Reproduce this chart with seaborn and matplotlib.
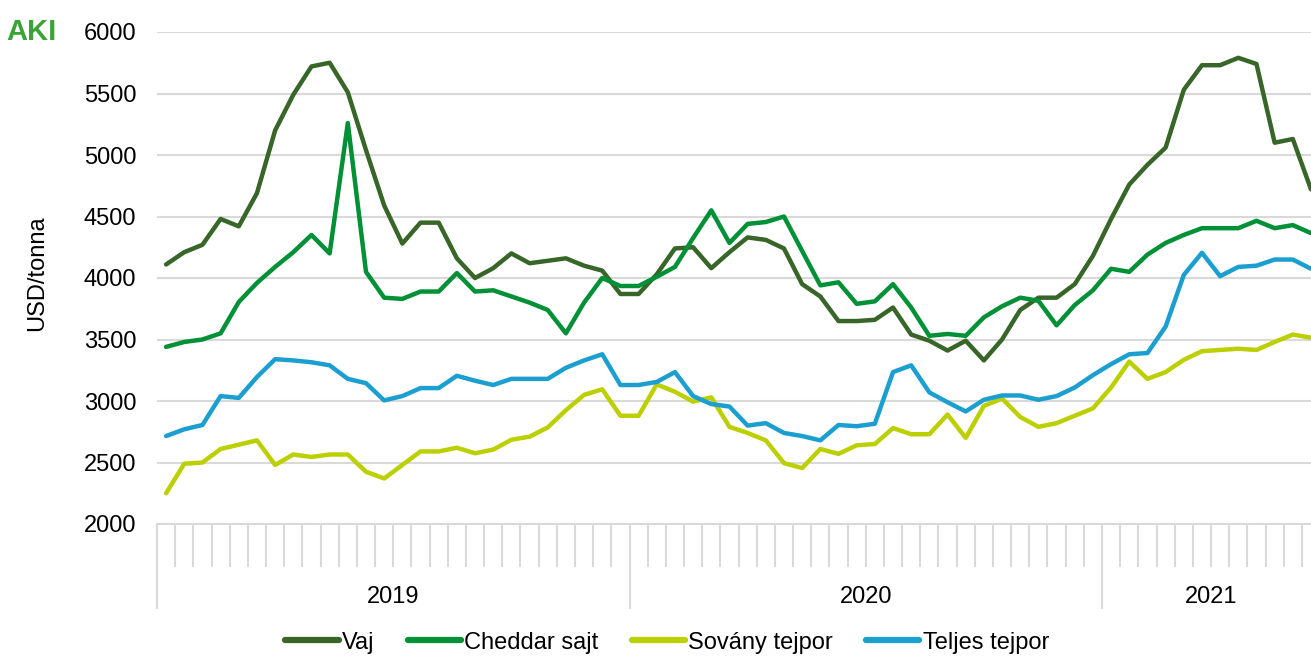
import matplotlib
matplotlib.use("Agg")
import matplotlib.pyplot as plt
import seaborn as sns
import pandas as pd
import numpy as np

# kéthetes árak, USD/tonna (2019 - 2021)
years = ["2019", "2020", "2021"]
periods_per_year = [26, 26, 12]

vaj = [4110, 4210, 4270, 4480, 4420, 4690, 5200, 5490, 5720, 5750,
       5510, 5040, 4590, 4280, 4450, 4450, 4160, 4000, 4080, 4200,
       4120, 4140, 4160, 4100, 4060, 3870, 3870, 4030, 4240, 4250,
       4080, 4210, 4330, 4310, 4240, 3950, 3850, 3650, 3650, 3660,
       3760, 3540, 3490, 3410, 3490, 3330, 3500, 3740, 3840, 3840,
       3950, 4180, 4480, 4760, 4920, 5060, 5530, 5730, 5730, 5790,
       5740, 5100, 5130, 4720]

cheddar = [3440, 3480, 3500, 3550, 3805, 3960, 4090, 4210, 4350, 4200,
           5260, 4050, 3840, 3830, 3890, 3890, 4040, 3890, 3900, 3850,
           3800, 3740, 3550, 3800, 4000, 3935, 3935, 4010, 4090, 4325,
           4550, 4285, 4440, 4455, 4500, 4220, 3940, 3965, 3790, 3810,
           3950, 3760, 3530, 3545, 3530, 3680, 3770, 3840, 3815, 3615,
           3780, 3900, 4075, 4050, 4190, 4285, 4350, 4405, 4405, 4405,
           4465, 4405, 4430, 4365]

sovany = [2250, 2490, 2500, 2610, 2645, 2680, 2480, 2565, 2545, 2565,
          2565, 2425, 2370, 2480, 2590, 2590, 2620, 2575, 2605, 2685,
          2710, 2785, 2925, 3050, 3095, 2880, 2880, 3135, 3075, 2995,
          3030, 2790, 2740, 2680, 2495, 2455, 2610, 2570, 2640, 2650,
          2780, 2730, 2730, 2890, 2700, 2960, 3020, 2870, 2790, 2820,
          2880, 2940, 3110, 3320, 3180, 3235, 3335, 3405, 3415, 3425,
          3415, 3480, 3540, 3515]

teljes = [2715, 2770, 2805, 3040, 3025, 3195, 3340, 3330, 3315, 3290,
          3180, 3145, 3005, 3040, 3105, 3105, 3205, 3165, 3130, 3180,
          3180, 3180, 3270, 3330, 3380, 3130, 3130, 3155, 3235, 3040,
          2975, 2955, 2800, 2820, 2740, 2715, 2680, 2805, 2795, 2815,
          3235, 3290, 3070, 2990, 2915, 3010, 3045, 3045, 3010, 3040,
          3110, 3210, 3300, 3380, 3390, 3605, 4025, 4205, 4015, 4090,
          4100, 4150, 4150, 4075]

series_names = ["Vaj", "Cheddar sajt", "Sovány tejpor", "Teljes tejpor"]
colors = ["#376628", "#009035", "#bccf00", "#1b9fd0"]

n = len(vaj)
idx = np.arange(n)
data = pd.DataFrame({
    "idx": np.tile(idx, 4),
    "price": vaj + cheddar + sovany + teljes,
    "series": np.repeat(series_names, n),
})

sns.set_style("white")
plt.rcParams["font.family"] = ["Liberation Sans", "DejaVu Sans"]
plt.rcParams["text.color"] = "black"
plt.rcParams["axes.labelcolor"] = "black"
plt.rcParams["xtick.color"] = "black"
plt.rcParams["ytick.color"] = "black"

fs = 17

fig = plt.figure(figsize=(13.11, 6.57), dpi=100)
ax = fig.add_axes([157 / 1311, 133 / 657, 1154 / 1311, 492 / 657])

sns.lineplot(data=data, x="idx", y="price", hue="series",
             palette=dict(zip(series_names, colors)), linewidth=3.2,
             ax=ax, legend=False)

ax.set_ylim(2000, 6000)
ax.set_xlim(-0.5, n - 1)
ax.set_yticks(range(2000, 6001, 500))
ax.tick_params(axis="y", length=0, labelsize=fs, pad=15)
ax.yaxis.grid(True, color="#d9d9d9", linewidth=1.5)
ax.set_ylabel("USD/tonna", fontsize=fs)
ax.yaxis.set_label_coords(-0.094, 0.51)
ax.set_xlabel("")

for s in ["top", "right", "left"]:
    ax.spines[s].set_visible(False)
ax.spines["bottom"].set_color("#d9d9d9")
ax.spines["bottom"].set_linewidth(1.5)

# évhatárok és kéthetes osztások
bounds = np.cumsum([0] + periods_per_year) - 0.5
minor = [b for b in np.arange(-0.5, n + 0.5) if b not in bounds]
ax.set_xticks(bounds[:-1])
ax.set_xticklabels([])
ax.set_xticks(minor, minor=True)
ax.tick_params(axis="x", which="both", bottom=True, color="#d9d9d9", width=1.5)
ax.tick_params(axis="x", which="major", length=61)
ax.tick_params(axis="x", which="minor", length=31)

for y, start, cnt in zip(years, bounds[:-1], periods_per_year):
    ax.text(start + cnt / 2, -0.148, y, transform=ax.get_xaxis_transform(),
            ha="center", va="center", fontsize=fs)

handles = [plt.Line2D([], [], color=c, linewidth=4.5) for c in colors]
fig.legend(handles, series_names, loc="center", bbox_to_anchor=(0.509, 0.022),
           ncol=4, frameon=False, fontsize=fs, handlelength=2.25,
           handletextpad=0.15, columnspacing=1.4)

fig.text(0.005, 0.952, "AKI", color="#3aa535", fontsize=21, fontweight="bold",
         ha="left", va="center")

fig.savefig("out.png", dpi=100)
